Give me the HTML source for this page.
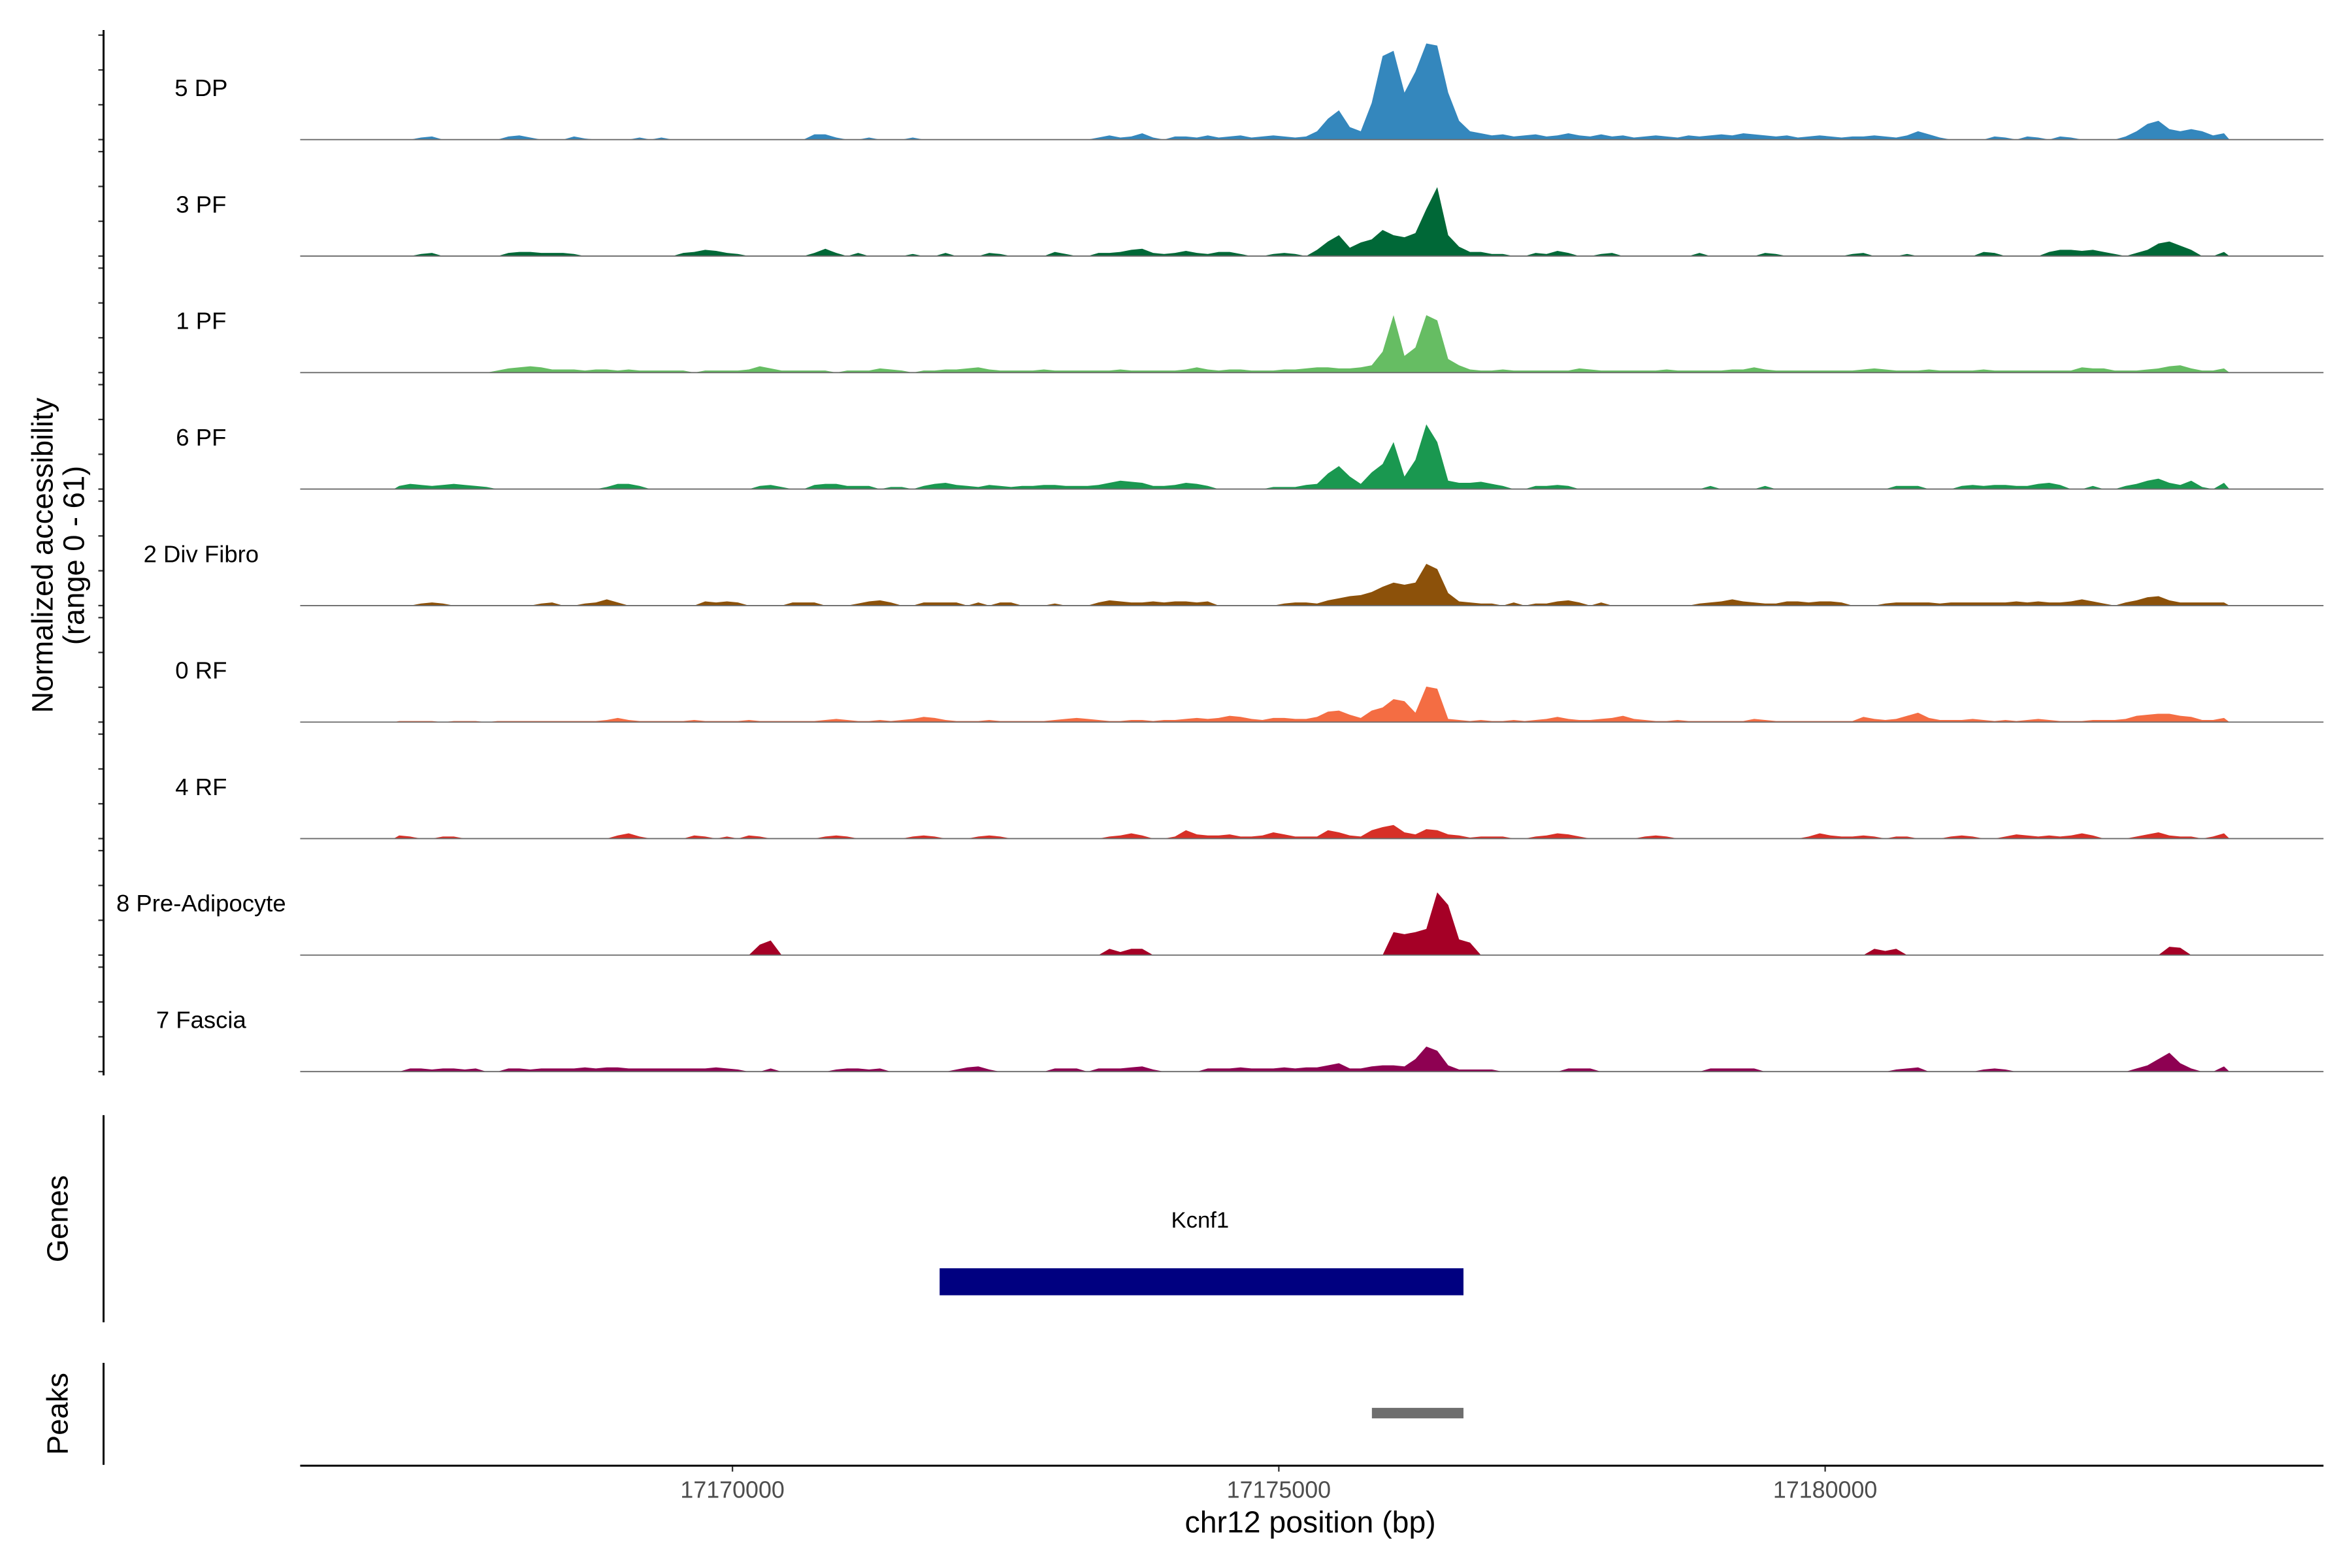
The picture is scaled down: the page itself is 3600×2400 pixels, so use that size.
<!DOCTYPE html>
<html><head><meta charset="utf-8"><title>Coverage plot Kcnf1</title>
<style>html,body{margin:0;padding:0;background:#fff}svg{display:block}text{font-family:"Liberation Sans",Arial,sans-serif}</style>
</head><body>
<svg id="chart" xmlns="http://www.w3.org/2000/svg" width="3600" height="2400" viewBox="0 0 1567 1044.7" preserveAspectRatio="none">
<g id="tracks"></g>
<g id="axes"></g>
<text transform="translate(35,370) rotate(-90)" text-anchor="middle" font-size="19.7" fill="#000">Normalized accessibility</text>
<text transform="translate(56,370) rotate(-90)" text-anchor="middle" font-size="19.7" fill="#000">(range 0 - 61)</text>
<line x1="69" y1="743" x2="69" y2="881" stroke="#000" stroke-width="1.3"/>
<text transform="translate(45,812) rotate(-90)" text-anchor="middle" font-size="19.7">Genes</text>
<line x1="69" y1="908" x2="69" y2="976" stroke="#000" stroke-width="1.3"/>
<text transform="translate(45,942) rotate(-90)" text-anchor="middle" font-size="19.7">Peaks</text>
<text x="873" y="1021" text-anchor="middle" font-size="20.2">chr12 position (bp)</text>
</svg>
<script>
const trackNames = ["5 DP","3 PF","1 PF","6 PF","2 Div Fibro","0 RF","4 RF","8 Pre-Adipocyte","7 Fascia"];
const trackColors = ["#3487bd","#006837","#66bd63","#1a9850","#8c510a","#f46d43","#d73027","#a50026","#8e0152"];
const binStart = 17166900;
const binSize = 100;
const xTicks = [17170000,17175000,17180000];
const xTickLabels = ["17170000","17175000","17180000"];
const geneName = "Kcnf1";
const geneRange = [17171896,17176690];
const peakRange = [17175852,17176690];
const cov5DP = [
0,0,2,3,0,0,0,0,0,0,3,4, 2,0,0,0,3,1,0,0,0,0,2,0, 2,0,0,0,0,0,0,0,0,0,0,0,
0,0,5,5,2,0,0,2,0,0,0,2, 0,0,0,0,0,0,0,0,0,0,0,0, 0,0,0,0,2,4,2,3,6,2,0,3,
3,2,4,2,3,4,2,3,4,3,2,3, 8,20,28,12,8,35,80,85,45,65,92,90, 45,18,8,6,4,5,3,4,5,3,4,6,
4,3,5,3,4,2,3,4,3,2,4,3, 4,5,4,6,5,4,3,4,2,3,4,3, 2,3,3,4,3,2,4,8,5,2,0,0,
0,0,3,2,0,3,2,0,3,2,0,0, 0,0,3,8,15,18,10,8,10,8,4,6];
const cov3PF = [
0,0,2,3,0,0,0,0,0,0,3,4, 4,3,3,3,2,0,0,0,0,0,0,0, 0,0,3,4,6,5,3,2,0,0,0,0,
0,0,3,7,3,0,3,0,0,0,0,2, 0,0,3,0,0,0,3,2,0,0,0,0, 4,2,0,0,3,3,4,6,7,3,2,3,
5,3,2,4,4,2,0,0,2,3,2,0, 6,14,20,8,13,16,25,20,18,22,45,66, 20,9,4,4,2,2,0,0,3,2,5,3,
0,0,2,3,0,0,0,0,0,0,0,3, 0,0,0,0,0,3,2,0,0,0,0,0, 0,2,3,0,0,0,2,0,0,0,0,0,
0,4,3,0,0,0,0,4,6,6,5,6, 4,2,0,3,6,12,14,10,6,0,0,4];
const cov1PF = [
0,0,0,0,0,0,0,0,0,2,4,5, 6,5,3,3,3,2,3,3,2,3,2,2, 2,2,2,0,2,2,2,2,3,6,4,2,
2,2,2,2,0,2,2,2,4,3,2,0, 2,2,3,3,4,5,3,2,2,2,2,3, 2,2,2,2,2,2,3,2,2,2,2,2,
3,5,3,2,3,3,2,2,2,3,3,4, 5,5,4,4,5,7,20,55,16,24,55,50, 13,7,3,2,2,3,2,2,2,2,2,2,
4,3,2,2,2,2,2,2,3,2,2,2, 2,2,3,3,5,3,2,2,2,2,2,2, 2,2,3,4,3,2,2,2,3,2,2,2,
2,3,2,2,2,2,2,2,2,2,5,4, 4,2,2,2,3,4,6,7,4,2,2,4];
const cov6PF = [
3,5,4,3,4,5,4,3,2,0,0,0, 0,0,0,0,0,0,0,2,5,5,3,0, 0,0,0,0,0,0,0,0,0,3,4,2,
0,0,4,5,5,3,3,3,0,2,2,0, 3,5,6,4,3,2,4,3,2,3,3,4, 4,3,3,3,4,6,8,7,6,3,3,4,
6,5,3,0,0,0,0,0,2,2,2,4, 5,15,22,12,5,16,24,45,12,28,62,45, 8,6,6,7,5,3,0,0,3,3,4,3,
0,0,0,0,0,0,0,0,0,0,0,0, 3,0,0,0,0,3,0,0,0,0,0,0, 0,0,0,0,0,3,3,3,0,0,0,3,
4,3,4,4,3,3,5,6,4,0,0,3, 0,0,3,5,8,10,6,4,8,2,0,6];
const covDivFibro = [
0,0,2,3,2,0,0,0,0,0,0,0, 0,2,3,0,0,2,3,6,3,0,0,0, 0,0,0,0,4,3,4,3,0,0,0,0,
3,3,3,0,0,0,2,4,5,3,0,0, 3,3,3,3,0,3,0,3,3,0,0,0, 2,0,0,0,3,5,4,3,3,4,3,4,
4,3,4,0,0,0,0,0,0,2,3,3, 2,5,7,9,10,13,18,22,20,22,40,35, 12,4,3,2,2,0,3,0,2,2,4,5,
3,0,3,0,0,0,0,0,0,0,0,2, 3,4,6,4,3,2,2,4,4,3,4,4, 3,0,0,0,2,3,3,3,3,2,3,3,
3,3,3,3,4,3,4,3,3,4,6,4, 2,0,3,5,8,9,5,3,3,3,3,3];
const cov0RF = [
1,1,1,1,0,1,1,1,0,1,1,1, 1,1,1,1,1,1,1,2,4,2,1,1, 1,1,1,2,1,1,1,1,2,1,1,1,
1,1,1,2,3,2,1,1,2,1,2,3, 5,4,2,1,1,1,2,1,1,1,1,1, 2,3,4,3,2,1,1,2,2,1,2,2,
3,4,3,4,6,5,3,2,4,4,3,3, 5,10,11,7,4,11,14,22,20,9,34,32, 3,2,1,2,1,1,2,1,2,3,5,3,
2,2,3,4,6,3,2,1,1,2,1,1, 1,1,1,1,3,2,1,1,1,1,1,1, 1,1,5,3,2,3,6,9,4,2,2,2,
3,2,1,2,1,2,3,2,1,1,1,2, 2,2,3,6,7,8,8,6,5,2,2,4];
const cov4RF = [
3,2,0,0,2,2,0,0,0,0,0,0, 0,0,0,0,0,0,0,0,3,5,2,0, 0,0,0,3,2,0,2,0,3,2,0,0,
0,0,0,2,3,2,0,0,0,0,0,2, 3,2,0,0,0,2,3,2,0,0,0,0, 0,0,0,0,0,2,3,5,3,0,0,2,
8,4,3,3,4,2,2,3,6,4,2,2, 2,8,6,3,2,8,11,13,6,4,9,8, 4,3,1,2,2,2,0,0,2,3,5,4,
2,0,0,0,0,0,2,3,2,0,0,0, 0,0,0,0,0,0,0,0,0,2,5,3, 2,2,3,2,0,2,2,0,0,0,2,3,
2,0,0,2,4,3,2,3,2,3,5,3, 0,0,0,2,4,6,3,2,2,0,2,5];
const cov8PreAdipocyte = [
0,0,0,0,0,0,0,0,0,0,0,0, 0,0,0,0,0,0,0,0,0,0,0,0, 0,0,0,0,0,0,0,0,0,10,14,0,
0,0,0,0,0,0,0,0,0,0,0,0, 0,0,0,0,0,0,0,0,0,0,0,0, 0,0,0,0,0,6,3,6,6,0,0,0,
0,0,0,0,0,0,0,0,0,0,0,0, 0,0,0,0,0,0,0,22,20,22,25,60, 48,15,12,0,0,0,0,0,0,0,0,0,
0,0,0,0,0,0,0,0,0,0,0,0, 0,0,0,0,0,0,0,0,0,0,0,0, 0,0,0,6,4,6,0,0,0,0,0,0,
0,0,0,0,0,0,0,0,0,0,0,0, 0,0,0,0,0,0,8,7,0,0,0,0];
const cov7Fascia = [
0,3,3,2,3,3,2,3,0,0,3,3, 2,3,3,3,3,4,3,4,4,3,3,3, 3,3,3,3,3,4,3,2,0,0,3,0,
0,0,0,0,2,3,3,2,3,0,0,0, 0,0,0,2,4,5,2,0,0,0,0,0, 3,3,3,0,3,3,3,4,5,2,0,0,
0,0,3,3,3,4,3,3,3,4,3,4, 4,6,8,3,3,5,6,6,5,12,24,20, 6,2,2,2,2,0,0,0,0,0,0,3,
3,3,0,0,0,0,0,0,0,0,0,0, 3,3,3,3,3,0,0,0,0,0,0,0, 0,0,0,0,0,2,3,4,0,0,0,0,
0,2,3,2,0,0,0,0,0,0,0,0, 0,0,0,3,6,12,18,8,3,0,0,5];
const coverage = [cov5DP,cov3PF,cov1PF,cov6PF,covDivFibro,cov0RF,cov4RF,cov8PreAdipocyte,cov7Fascia];

const NS = "http://www.w3.org/2000/svg";
const plotLeft = 200, plotRight = 1548;
const bpRef = 17166044, pxPerBp = 364/5000;
function xScale(bp){ return plotLeft + (bp - bpRef) * pxPerBp; }
const firstBaseline = 93, trackStep = 77.62, trackH = 69.6;
function baselineOf(k){ return firstBaseline + k * trackStep; }
function yScale(k, v){ return baselineOf(k) - v / 100 * trackH; }
function mk(tag, attrs){ const e = document.createElementNS(NS, tag); for (const a in attrs) e.setAttribute(a, attrs[a]); return e; }

const tracks = document.getElementById('tracks');
const axes = document.getElementById('axes');
coverage.forEach((vals, k) => {
  const b = baselineOf(k);
  let d = "M" + xScale(binStart).toFixed(2) + "," + b;
  vals.forEach((v, i) => { d += " L" + xScale(binStart + binSize * i + binSize / 2).toFixed(2) + "," + yScale(k, v).toFixed(2); });
  d += " L" + xScale(binStart + binSize * vals.length).toFixed(2) + "," + b + " Z";
  const p = mk('path', {d: d, fill: trackColors[k]});
  
  
  tracks.appendChild(p);
  const bl = mk('line', {x1: plotLeft, x2: plotRight, y1: b, y2: b, stroke: '#6a6a6a', 'stroke-width': 0.8});
  
  
  tracks.appendChild(bl);
  const t = mk('text', {x: 134, y: b - 29, 'text-anchor': 'middle', 'font-size': 15.9, fill: '#000'});
  t.textContent = trackNames[k];
  
  
  tracks.appendChild(t);
  for (let j = 0; j <= 3; j++) {
    const ty = b - j * trackH / 3;
    const tk = mk('line', {x1: 65.5, x2: 69, y1: ty, y2: ty, stroke: '#333', 'stroke-width': 1});
    
    
    axes.appendChild(tk);
  }
});
const yl = mk('line', {x1: 69, x2: 69, y1: 20, y2: 716.5, stroke: '#000', 'stroke-width': 1.3});


axes.appendChild(yl);

const gr = mk('rect', {x: xScale(geneRange[0]), y: 845, width: xScale(geneRange[1]) - xScale(geneRange[0]), height: 18, fill: '#000080'});


axes.appendChild(gr);
const gt = mk('text', {x: (xScale(geneRange[0]) + xScale(geneRange[1])) / 2 - 1, y: 818, 'text-anchor': 'middle', 'font-size': 15.1, fill: '#000'});
gt.textContent = geneName;


axes.appendChild(gt);
const pr = mk('rect', {x: xScale(peakRange[0]), y: 938, width: xScale(peakRange[1]) - xScale(peakRange[0]), height: 7, fill: '#6e6e6e'});


axes.appendChild(pr);

const xl = mk('line', {x1: plotLeft, x2: plotRight, y1: 976.5, y2: 976.5, stroke: '#000', 'stroke-width': 1.3});


axes.appendChild(xl);
xTicks.forEach((bp, i) => {
  const x = xScale(bp);
  const tk = mk('line', {x1: x, x2: x, y1: 977, y2: 980.5, stroke: '#333', 'stroke-width': 1});
  
  
  axes.appendChild(tk);
  const tl = mk('text', {x: x, y: 998, 'text-anchor': 'middle', 'font-size': 15.6, fill: '#4d4d4d'});
  tl.textContent = xTickLabels[i];
  
  
  axes.appendChild(tl);
});
</script>
</body></html>
